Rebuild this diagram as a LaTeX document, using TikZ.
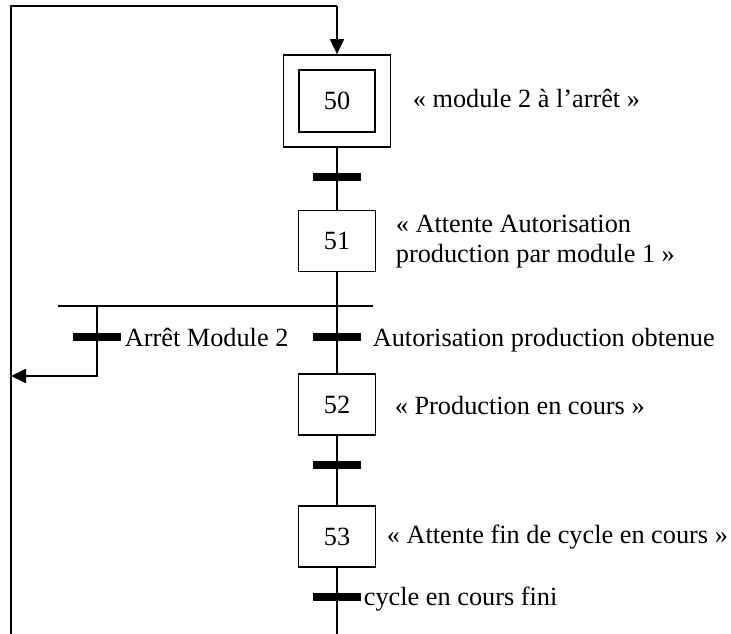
\documentclass[tikz,border=0pt]{standalone}
\usepackage{fontspec}
\setmainfont{Liberation Serif}
\usetikzlibrary{arrows.meta}
\begin{document}
\begin{tikzpicture}[x=1pt,y=-1pt,
  line width=1.7pt,
  every node/.style={font=\fontsize{26.3}{30}\selectfont},
  stepbox/.style={draw,line width=1.7pt,minimum width=77pt,minimum height=61pt,inner sep=0pt},
  initbox/.style={draw,line width=1.7pt,minimum width=107pt,minimum height=92pt,inner sep=0pt},
  bar/.style={fill=black,minimum width=46pt,minimum height=6pt,inner sep=0pt},
  lbl/.style={anchor=base west,inner sep=0pt,align=left},
  tip/.style={-{Triangle[length=15pt,width=14pt]}}]
\useasboundingbox (0,0) rectangle (731,634);

% initial step 50
\node[initbox] (s50o) at (337,101) {};
\node[stepbox,minimum width=76pt,minimum height=62pt] (s50) at (337,101) {50};
\node[lbl] (l50) at (412,107) {« module 2 à l’arrêt »};

% step 51
\node[stepbox] (s51) at (337,241) {51};
\node[lbl] (l51) at (395,262) {« Attente Autorisation\\production par module 1 »};

% step 52
\node[stepbox] (s52) at (337,404.5) {52};
\node[lbl] (l52) at (394,414) {« Production en cours »};

% step 53
\node[stepbox] (s53) at (337,536.5) {53};
\node[lbl] (l53) at (386,543) {« Attente fin de cycle en cours »};

% transitions
\node[bar] (t1) at (337,177) {};
\node[bar] (t2) at (337,337) {};
\node[lbl] (lt2) at (372,346) {Autorisation production obtenue};
\node[bar] (t3) at (337,465) {};
\node[bar] (t4) at (337,597) {};
\node[lbl] (lt4) at (363,605) {cycle en cours fini};
\node[bar] (tA) at (97,337) {};
\node[lbl] (ltA) at (124,346) {Arrêt Module 2};

% selection of sequence
\coordinate (dl) at (58,306);
\coordinate (dr) at (373,306);
\coordinate (db) at (97,306);
\draw[line width=1.3pt] (dl) -- (dr);

% left rail and loop back to step 50
\coordinate (lb) at (11,634);
\coordinate (tl) at (11,6);
\coordinate (tr) at (337,6);
\coordinate (ret) at (11,376);
\coordinate (end) at (337,634);

\draw (lb) -- (tl) -- (tr);
\draw[tip] (tr) -- (s50o.north);

% main sequence
\draw (s50o.south) -- (t1.center) -- (s51.north);
\draw (s51.south) -- (t2.center) -- (s52.north);
\draw (s52.south) -- (t3.center) -- (s53.north);
\draw (s53.south) -- (t4.center) -- (end);

% branch to the left rail
\draw[tip] (db) -- (tA.center) |- (ret);

% bars drawn over the lines
\fill (t1.south west) rectangle (t1.north east);
\fill (t2.south west) rectangle (t2.north east);
\fill (t3.south west) rectangle (t3.north east);
\fill (t4.south west) rectangle (t4.north east);
\fill (tA.south west) rectangle (tA.north east);
\end{tikzpicture}
\end{document}
